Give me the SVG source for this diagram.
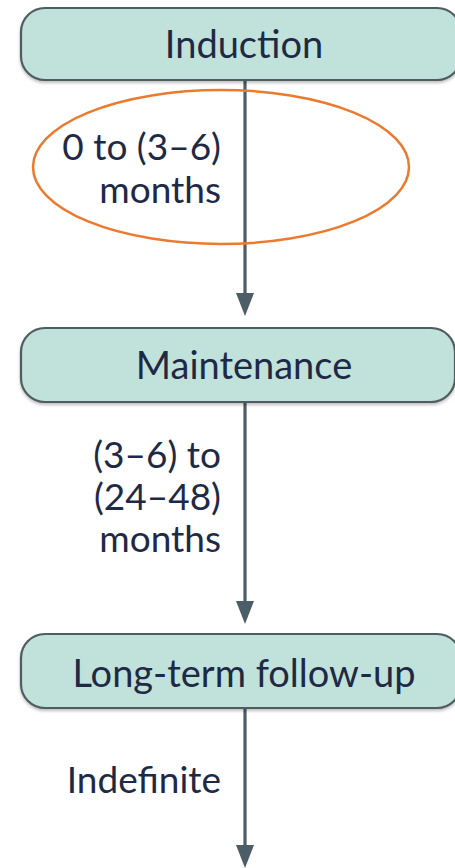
<svg xmlns="http://www.w3.org/2000/svg" width="455" height="868" viewBox="0 0 455 868">
  <style>
    .box { fill: #c1e1db; stroke: #4f5b60; stroke-width: 2.2; }
    .title { font-family: Lato, "Open Sans", sans-serif; font-size: 38px; fill: #1e2a45; text-anchor: middle; }
    .label { font-family: Lato, "Open Sans", sans-serif; font-size: 37px; fill: #1e2a45; text-anchor: end; }
    .edge { stroke: #4b5d66; stroke-width: 3.2; }
    .head { fill: #4b5d66; }
  </style>
  <defs>
    <filter id="shadow" x="-5%" y="-10%" width="110%" height="130%">
      <feDropShadow dx="0" dy="2" stdDeviation="1.5" flood-color="#000" flood-opacity="0.25"/>
    </filter>
  </defs>

  <!-- connectors: vertical shafts with filled triangular heads -->
  <g id="connectors">
    <line class="edge" x1="245" y1="80" x2="245" y2="296"/>
    <path class="head" d="M236,293 L254,293 L245,316 Z"/>
    <line class="edge" x1="245" y1="402" x2="245" y2="604"/>
    <path class="head" d="M236,601 L254,601 L245,624 Z"/>
    <line class="edge" x1="245" y1="708" x2="245" y2="848"/>
    <path class="head" d="M236,845 L254,845 L245,868 Z"/>
  </g>

  <g id="induction">
    <rect class="box" x="21" y="8" width="440" height="72" rx="24" filter="url(#shadow)"/>
    <text class="title" x="244" y="58">Induction</text>
  </g>

  <g id="induction-duration">
    <text class="label" x="221" y="160">0 to (3–6)</text>
    <text class="label" x="221" y="203">months</text>
    <ellipse cx="221" cy="167" rx="188" ry="77" fill="none" stroke="#ec7a2e" stroke-width="2.5"/>
  </g>

  <g id="maintenance">
    <rect class="box" x="21" y="328" width="434" height="74" rx="24" filter="url(#shadow)"/>
    <text class="title" x="244" y="379">Maintenance</text>
  </g>

  <g id="maintenance-duration">
    <text class="label" x="221" y="468">(3–6) to</text>
    <text class="label" x="221" y="510">(24–48)</text>
    <text class="label" x="221" y="552">months</text>
  </g>

  <g id="follow-up">
    <rect class="box" x="21" y="634" width="440" height="74" rx="24" filter="url(#shadow)"/>
    <text class="title" x="244" y="687">Long-term follow-up</text>
  </g>

  <g id="follow-up-duration">
    <text class="label" x="221" y="793">Indefinite</text>
  </g>
</svg>
